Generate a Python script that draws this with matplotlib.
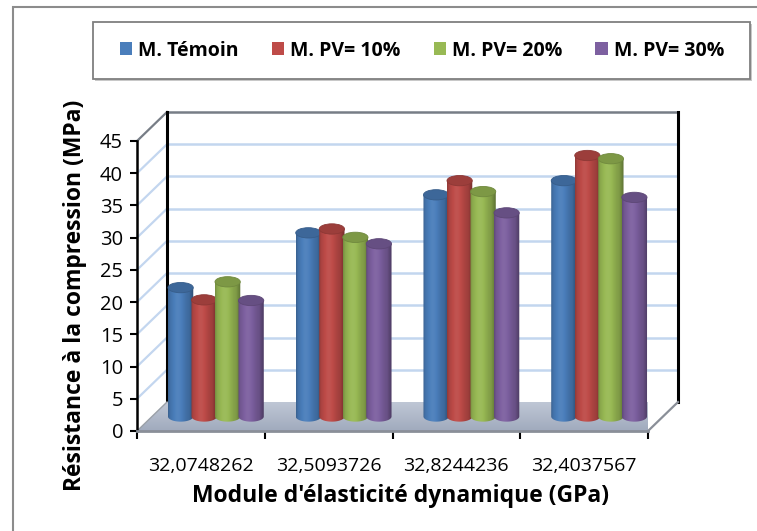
import numpy as np
import matplotlib
matplotlib.use("Agg")
import matplotlib.pyplot as plt
from matplotlib import transforms
from matplotlib.patches import Rectangle, Ellipse, Polygon, Patch
from matplotlib.colors import to_rgb

plt.rcParams['font.family'] = ['Open Sans', 'DejaVu Sans']

# ---- data -------------------------------------------------------------
categories = ["32,0748262", "32,5093726", "32,8244236", "32,4037567"]
series_names = ["M. Témoin", "M. PV= 10%", "M. PV= 20%", "M. PV= 30%"]
temoin = [20.0, 28.5, 34.4, 36.6]
pv10 = [18.1, 29.1, 36.6, 40.5]
pv20 = [20.9, 27.8, 34.9, 40.0]
pv30 = [18.0, 26.8, 31.6, 34.0]
y_ticks = list(range(0, 50, 5))

series = [temoin, pv10, pv20, pv30]
colors = ["#4a7ebb", "#be4b48", "#98b954", "#7d60a0"]

# ---- figure / front plane of the 3-D box --------------------------------
W, H, DPI = 757, 531, 100
fig = plt.figure(figsize=(W / DPI, H / DPI), dpi=DPI)
L, R, B, T = 137, 648, 431, 141          # front plane, pixels from top-left
ax = fig.add_axes([L / W, 1 - B / H, (R - L) / W, (B - T) / H])
ax.set_xlim(0, len(categories))
ax.set_ylim(0, 45)
ax.patch.set_visible(False)

DX, DY = 30, 29                           # depth of the box in pixels
back = transforms.offset_copy(ax.transData, fig, x=DX, y=DY, units='dots')
mid = transforms.offset_copy(ax.transData, fig, x=DX / 2, y=DY / 2, units='dots')
ident = transforms.IdentityTransform()
ncat = len(categories)

# ---- floor ----------------------------------------------------------------
fl = [ax.transData.transform((0, 0)), ax.transData.transform((ncat, 0)),
      back.transform((ncat, 0)), back.transform((0, 0))]
floor = Polygon(fl, closed=True, transform=ident, facecolor='none',
                edgecolor='none')
ax.add_patch(floor)
grad = np.linspace(0, 1, 64)[:, None]
c_top = np.array(to_rgb('#c0c8d6'))
c_bot = np.array(to_rgb('#a0aabd'))
img = c_top[None, None, :] * (1 - grad[..., None]) + c_bot[None, None, :] * grad[..., None]
xs = [p[0] for p in fl]
ys = [p[1] for p in fl]
im = ax.imshow(img, extent=(min(xs), max(xs), min(ys), max(ys)), origin='upper',
               transform=ident, aspect='auto', zorder=0.5, interpolation='bilinear')
im.set_clip_path(floor)
ax.plot([fl[1][0], fl[2][0]], [fl[1][1], fl[2][1]], transform=ident,
        color='#8a8f98', lw=1.6, zorder=0.6, clip_on=False)
ax.plot([fl[0][0], fl[3][0]], [fl[0][1], fl[3][1]], transform=ident,
        color='#9aa0a8', lw=1.0, zorder=0.6, clip_on=False)

# ---- back wall and side wall gridlines -------------------------------------
for v in y_ticks[1:]:
    top = v == y_ticks[-1]
    col = '#777d86' if top else '#c3d6ef'
    ax.plot([0, ncat], [v, v], transform=back, color=col, lw=1.8,
            zorder=0.4, clip_on=False)
    p0 = ax.transData.transform((0, v))
    p1 = back.transform((0, v))
    ax.plot([p0[0], p1[0]], [p0[1], p1[1]], transform=ident, color=col,
            lw=1.6, zorder=0.4, clip_on=False)
for xv in (0, ncat):
    ax.plot([xv, xv], [0, 45], transform=back, color='black', lw=2.2,
            zorder=0.45, clip_on=False)

# ---- cylinders -------------------------------------------------------------
pitch, width = 0.184, 0.198
eh = 1.6                                   # ellipse height in data units
t = np.linspace(0, np.pi, 40)
u = np.linspace(0, 1, 96)
shade = 0.80 + 0.24 * np.exp(-((u - 0.38) / 0.32) ** 2)
shade[u < 0.08] -= (0.08 - u[u < 0.08]) * 1.2
shade[u > 0.82] -= (u[u > 0.82] - 0.82) * 1.1


def shaded(base, f):
    base = np.asarray(base)
    out = np.where(f[:, None] <= 1, base[None, :] * f[:, None],
                   base[None, :] + (1 - base[None, :]) * (f[:, None] - 1) * 1.2)
    return np.clip(out, 0, 1)


for i, (vals, col) in enumerate(zip(series, colors)):
    base = np.array(to_rgb(col))
    strip = shaded(base, shade)[None, :, :]
    for j, v in enumerate(vals):
        xc = j + 0.5 + (i - 1.5) * pitch
        x0, x1 = xc - width / 2, xc + width / 2
        arc_x = x0 + width * (1 - np.cos(t)) / 2
        arc_y = -eh / 2 * np.sin(t)
        verts = [(x0, v)] + list(zip(arc_x, arc_y)) + [(x1, v), (x0, v)]
        body = Polygon(verts, closed=True, transform=mid, facecolor='none',
                       edgecolor='none')
        ax.add_patch(body)
        bim = ax.imshow(strip, extent=(x0, x1, -eh, v), transform=mid,
                        aspect='auto', zorder=2 + i * 0.1 + j * 0.01,
                        interpolation='bilinear')
        bim.set_clip_path(body)
        cap = Ellipse((xc, v), width, eh, transform=mid,
                      facecolor=tuple(base * 0.82), edgecolor=tuple(base * 0.74),
                      lw=0.6, zorder=2.005 + i * 0.1 + j * 0.01)
        ax.add_patch(cap)

ax.set_xlim(0, ncat)
ax.set_ylim(0, 45)

# ---- axes, ticks, labels ---------------------------------------------------
for s in ('top', 'right'):
    ax.spines[s].set_visible(False)
ax.spines['left'].set_color('black')
ax.spines['left'].set_linewidth(1.8)
ax.spines['bottom'].set_color('#8a8f98')
ax.spines['bottom'].set_linewidth(2.0)
ax.set_yticks(y_ticks)
ax.tick_params(axis='y', direction='out', length=5, width=1.5, color='black',
               labelsize=14.5, pad=5)
ax.set_xticks([k + 0.5 for k in range(ncat)])
ax.set_xticklabels(categories)
ax.set_xticks(range(ncat + 1), minor=True)
ax.tick_params(axis='x', which='major', length=0, labelsize=14, pad=19)
ax.tick_params(axis='x', which='minor', direction='out', length=6, width=1.5,
               color='black')

ax.set_ylabel('Résistance à la compression (MPa)', fontsize=16.5,
              fontweight='bold')
ax.yaxis.set_label_coords(-0.097, 0.466)
ax.set_xlabel("Module d'élasticité dynamique (GPa)", fontsize=16.5,
              fontweight='bold')
ax.xaxis.set_label_coords(0.515, -0.183)

# ---- frame around the chart and the legend ---------------------------------
fig.add_artist(Rectangle((13 / W, -0.05), 2, 1 - 7 / H + 0.05,
                         transform=fig.transFigure, fill=False,
                         edgecolor='#8c8c8c', lw=1.5))
fig.add_artist(Rectangle((95 / W, 1 - 81 / H), 657 / W, 57 / H,
                         transform=fig.transFigure, facecolor='#c8c8c8',
                         edgecolor='none'))
fig.add_artist(Rectangle((93 / W, 1 - 79 / H), 657 / W, 57 / H,
                         transform=fig.transFigure, facecolor='white',
                         edgecolor='#7f7f7f', lw=1.3))
handles = [Patch(facecolor=c, edgecolor='none') for c in colors]
fig.legend(handles, series_names, loc='center', ncol=4, mode='expand',
           bbox_to_anchor=(112 / W, 1 - 79 / H, 620 / W, 57 / H),
           frameon=False, prop={'weight': 'bold', 'size': 14},
           handlelength=0.65, handleheight=0.65, handletextpad=0.3,
           borderaxespad=0)

fig.savefig('out.png', dpi=DPI)
